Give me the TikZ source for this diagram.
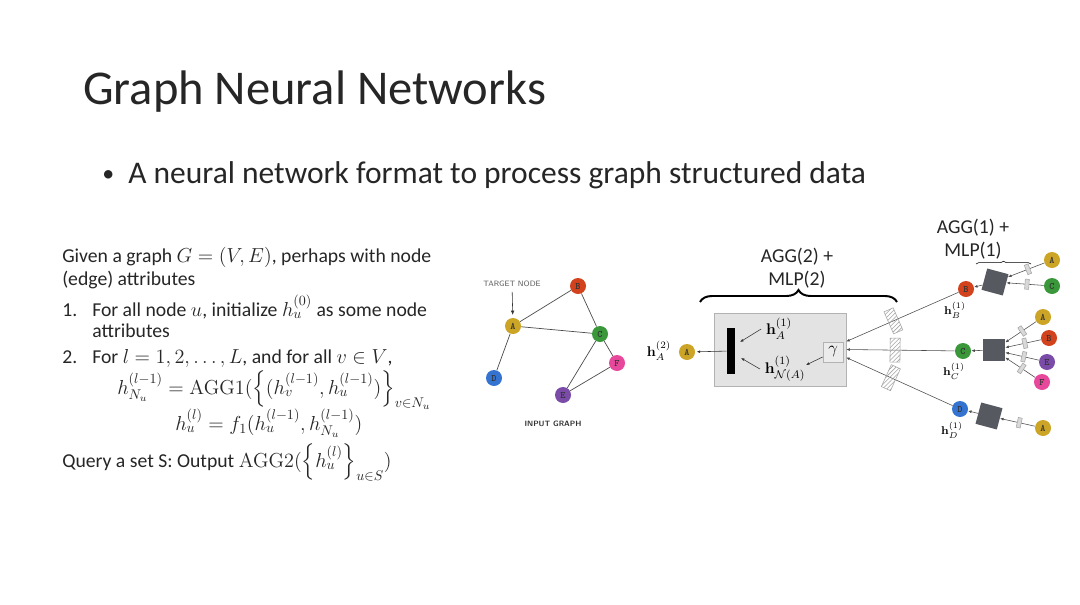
\documentclass[tikz,border=0pt]{standalone}
\usepackage{amsmath}
\usepackage[no-math]{fontspec}
\setmainfont{Carlito}
\usetikzlibrary{positioning,arrows.meta,decorations.pathreplacing,patterns}

\definecolor{nodeA}{RGB}{204,164,38}
\definecolor{nodeB}{RGB}{210,66,28}
\definecolor{nodeC}{RGB}{58,152,58}
\definecolor{nodeD}{RGB}{52,116,208}
\definecolor{nodeE}{RGB}{122,76,168}
\definecolor{nodeF}{RGB}{232,72,156}
\definecolor{sqgray}{RGB}{86,89,96}

\begin{document}
\begin{tikzpicture}[
		x=0.025cm, y=-0.025cm,
		gnode/.style={circle, minimum size=0.4cm, inner sep=0pt, font=\ttfamily\bfseries\fontsize{7}{7}\selectfont, text=black!80},
		gedge/.style={gray!60!black, line width=0.5pt},
		feed/.style={gray!60!black, line width=0.4pt, -{Latex[length=2.5pt, width=2pt]}},
		hatchbox/.style={draw=gray!70, pattern=north east lines, pattern color=gray!70, minimum width=0.25cm, minimum height=0.6cm, inner sep=0pt},
		tinybox/.style={draw=gray!70, fill=gray!30, minimum width=0.1cm, minimum height=0.25cm, inner sep=0pt},
		aggsq/.style={fill=sqgray, minimum size=0.55cm, inner sep=0pt},
		slide/.style={anchor=base west, inner sep=0pt, text=black!85, font=\fontsize{14}{17}\selectfont},
		hlabel/.style={font=\fontsize{8}{9}\selectfont},
		bigh/.style={font=\fontsize{11}{12}\selectfont}
		]
		
		\fill[white] (0,0) rectangle (1080,605);
		\useasboundingbox (0,0) rectangle (1080,605);
		
		% ---------------------------------------------------------
		% Title and bullet
		% ---------------------------------------------------------
		\node[anchor=base west, inner sep=0pt, text=black!85, font=\fontsize{34.5}{40}\selectfont] (title) at (83,104) {Graph Neural Networks};
		\node[anchor=base west, inner sep=0pt, text=black!85, font=\fontsize{22.4}{26}\selectfont] (bullet) at (128,183) {A neural network format to process graph structured data};
		\node[anchor=base west, inner sep=0pt, text=black!85, font=\fontsize{17}{20}\selectfont] (dot) at (102,181) {\textbullet};
		
		% ---------------------------------------------------------
		% Algorithm text
		% ---------------------------------------------------------
		\node[slide] (given) at (62,262) {Given a graph $G=(V,E)$, perhaps with node};
		\node[slide] (edgeattr) at (62,285) {(edge) attributes};
		\node[slide] (numone) at (62,316) {1.};
		\node[slide] (stepone) at (92,316) {For all node $u$, initialize $h_u^{(0)}$ as some node};
		\node[slide] (steponeb) at (92,337) {attributes};
		\node[slide] (numtwo) at (62,363) {2.};
		\node[slide] (steptwo) at (92,363) {For $l=1,2,\ldots,L$, and for all $v\in V$,};
		\node[slide] (aggone) at (117,394) {$h_{N_u}^{(l-1)}=\mathrm{AGG1}(\Big\{(h_v^{(l-1)},h_u^{(l-1)})\Big\}_{v\in N_u}$};
		\node[slide] (update) at (175,430) {$h_u^{(l)}=f_1(h_u^{(l-1)},h_{N_u}^{(l-1)})$};
		\node[slide] (query) at (62,467) {Query a set S: Output $\mathrm{AGG2}(\Big\{h_u^{(l)}\Big\}_{u\in S})$};
		
		% ---------------------------------------------------------
		% Input graph
		% ---------------------------------------------------------
		\node[gnode, fill=nodeA] (gA) at (513,326) {A};
		\node[gnode, fill=nodeB] (gB) at (578,286) {B};
		\node[gnode, fill=nodeC] (gC) at (600,334) {C};
		\node[gnode, fill=nodeD] (gD) at (494,378) {D};
		\node[gnode, fill=nodeE] (gE) at (563,395) {E};
		\node[gnode, fill=nodeF] (gF) at (617,363) {F};
		
		\foreach \a/\b in {gA/gB, gA/gC, gB/gC, gA/gD, gC/gE, gC/gF, gE/gF} {
			\draw[gedge] (\a) -- (\b);
		}
		
		\node[text=black!65, font=\sffamily\fontsize{5.5}{6}\selectfont] (target) at (512,284) {TARGET NODE};
		\draw[-{Latex[length=3pt, width=2.5pt]}, black!80, shorten >=2pt] (target) -- (gA);
		\node[text=black!80, font=\sffamily\bfseries\fontsize{5.5}{6}\selectfont] (ingraph) at (553,424) {INPUT GRAPH};
		
		% ---------------------------------------------------------
		% Layer 2: AGG(2) + MLP(2)
		% ---------------------------------------------------------
		\node[draw=gray!60, fill=gray!22, minimum width=3.3cm, minimum height=1.825cm, inner sep=0pt] (agg2) at (780,349.5) {};
		\node[fill=black, minimum width=0.21cm, minimum height=1.15cm, inner sep=0pt] (bar) at (731,351) {};
		\node[gnode, fill=nodeA] (outA) at (687,352) {A};
		\draw[feed, black!80, shorten >=1pt] (bar) -- (outA);
		\node[font=\fontsize{10}{11}\selectfont] (hA2) at (659,351) {$\mathbf{h}_A^{(2)}$};
		
		\node[bigh] (hA1) at (779,329) {$\mathbf{h}_A^{(1)}$};
		\node[bigh] (hNA) at (785,369) {$\mathbf{h}_{\mathcal{N}(A)}^{(1)}$};
		\node[draw=gray!60, fill=gray!15, minimum size=0.5cm, inner sep=0pt, font=\fontsize{13}{13}\selectfont] (gam) at (833,352) {$\gamma$};
		\coordinate (barin1) at (740,342);
		\coordinate (barin2) at (741,358);
		\coordinate (gamout) at (806,365);
		\draw[feed, black!80] (hA1.west) -- (barin1);
		\draw[feed, black!80] (hNA.west) -- (barin2);
		\draw[feed, black!80] (gam) -- (gamout);
		
		\draw[decorate, decoration={brace, amplitude=0.3cm}, line width=1.4pt] (700,302) -- (897,302);
		\node[font=\fontsize{14}{16}\selectfont, align=center, text=black!85] (agg2txt) at (797,268) {AGG(2) +\\MLP(2)};
		
		\coordinate (inB) at ([yshift=0.2cm]agg2.east);
		\coordinate (inC) at (agg2.east);
		\coordinate (inD) at ([yshift=-0.2cm]agg2.east);
		
		% ---------------------------------------------------------
		% Layer 1: AGG(1) + MLP(1)
		% ---------------------------------------------------------
		\node[font=\fontsize{14}{16}\selectfont, align=center, text=black!85] (agg1txt) at (973,239) {AGG(1) +\\MLP(1)};
		\draw[decorate, decoration={brace, amplitude=0.07cm}, line width=0.4pt] (976,264) -- (1031,264);
		
		\node[gnode, fill=nodeB] (hB) at (966,289) {B};
		\node[gnode, fill=nodeC] (hC) at (963,351) {C};
		\node[gnode, fill=nodeD] (hD) at (960,409) {D};
		\node[hlabel] (hBl) at (955,310) {$\mathbf{h}_B^{(1)}$};
		\node[hlabel] (hCl) at (954,371) {$\mathbf{h}_C^{(1)}$};
		\node[hlabel] (hDl) at (952,430) {$\mathbf{h}_D^{(1)}$};
		
		\draw[feed] (hB) -- (inB) node[hatchbox, pos=0.58, sloped] {};
		\draw[feed] (hC) -- (inC) node[hatchbox, pos=0.55, sloped] {};
		\draw[feed] (hD) -- (inD) node[hatchbox, pos=0.58, sloped] {};
		
		% square for B
		\node[aggsq, rotate=-15] (sqB) at (995,282) {};
		\node[gnode, fill=nodeA] (bA) at (1052,260) {A};
		\node[gnode, fill=nodeC] (bC) at (1052,286) {C};
		\draw[feed] (sqB) -- (hB);
		\draw[feed] (bA) -- (sqB) node[tinybox, pos=0.45, sloped] {};
		\draw[feed] (bC) -- (sqB) node[tinybox, pos=0.45, sloped] {};
		
		% square for C
		\node[aggsq] (sqC) at (994,350) {};
		\node[gnode, fill=nodeA] (cA) at (1043,317) {A};
		\node[gnode, fill=nodeB] (cB) at (1049,338) {B};
		\node[gnode, fill=nodeE] (cE) at (1047,362) {E};
		\node[gnode, fill=nodeF] (cF) at (1042,382) {F};
		\draw[feed] (sqC) -- (hC);
		\foreach \n in {cA, cB, cE, cF} {
			\draw[feed] (\n) -- (sqC) node[tinybox, pos=0.45, sloped] {};
		}
		
		% square for D
		\node[aggsq, rotate=-15] (sqD) at (989,416) {};
		\node[gnode, fill=nodeA] (dA) at (1043,428) {A};
		\draw[feed] (sqD) -- (hD);
		\draw[feed] (dA) -- (sqD) node[tinybox, pos=0.45, sloped] {};
		
	\end{tikzpicture}
\end{document}
